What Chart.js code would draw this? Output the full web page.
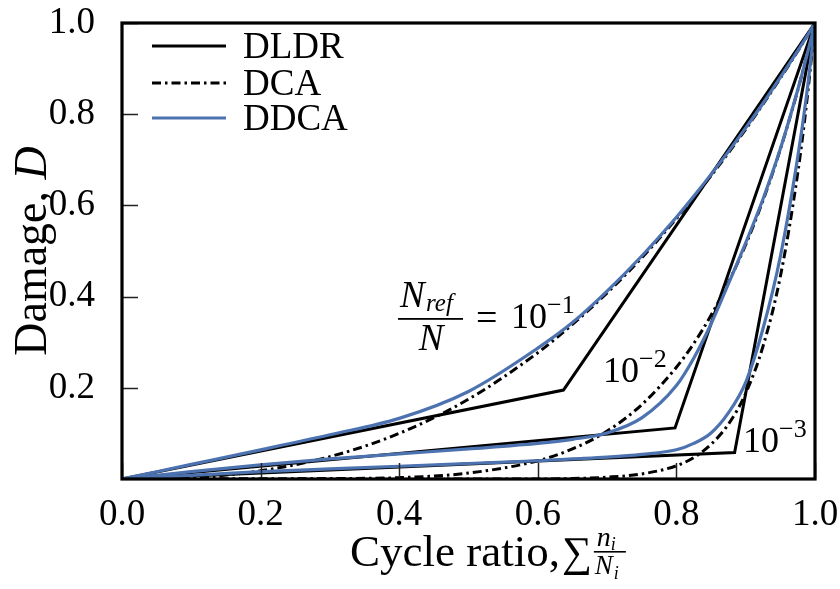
<!DOCTYPE html>
<html>
<head>
<meta charset="utf-8">
<script src="https://cdn.jsdelivr.net/npm/chart.js@4"></script>
<style>
  html, body { margin: 0; padding: 0; background: #fff; }
  #wrap { width: 840px; height: 589px; }
</style>
</head>
<body>
<div id="wrap"><canvas id="chart" width="840" height="589"></canvas></div>
<script>
const SERIF = "'Liberation Serif', 'DejaVu Serif', serif";
const BLUE = "#4C72B0";

// cycle ratio grid used by the curved models
const ratio = [0, 0.1, 0.2, 0.3, 0.4, 0.5, 0.6, 0.65, 0.7, 0.75, 0.8, 0.825, 0.85, 0.875, 0.9, 0.925, 0.95, 0.975, 0.9875, 1];

// DLDR (bilinear), one per N_ref/N
const dldrX1 = [0, 0.637, 1];
const dldrY1 = [0, 0.195, 1];
const dldrX2 = [0, 0.798, 1];
const dldrY2 = [0, 0.112, 1];
const dldrX3 = [0, 0.884, 1];
const dldrY3 = [0, 0.058, 1];

// DCA
const dca1 = [0, 0.003, 0.018, 0.049, 0.100, 0.175, 0.277, 0.339, 0.408, 0.485, 0.571, 0.617, 0.665, 0.715, 0.767, 0.822, 0.879, 0.938, 0.969, 1];
const dca2 = [0, 0, 0, 0.001, 0.003, 0.013, 0.040, 0.066, 0.105, 0.163, 0.245, 0.297, 0.359, 0.431, 0.514, 0.611, 0.723, 0.852, 0.924, 1];
const dca3 = [0, 0, 0, 0, 0, 0, 0, 0.001, 0.004, 0.011, 0.029, 0.047, 0.076, 0.120, 0.188, 0.291, 0.444, 0.670, 0.819, 1];

// DDCA
const ddca1 = [0, 0.032, 0.064, 0.097, 0.133, 0.192, 0.287, 0.343, 0.412, 0.489, 0.574, 0.620, 0.668, 0.718, 0.770, 0.824, 0.881, 0.939, 0.969, 1];
const ddca2 = [0, 0.016, 0.031, 0.044, 0.055, 0.066, 0.078, 0.087, 0.101, 0.134, 0.205, 0.265, 0.340, 0.428, 0.518, 0.614, 0.724, 0.853, 0.924, 1];
const ddca3 = [0, 0.008, 0.016, 0.022, 0.028, 0.034, 0.040, 0.044, 0.048, 0.054, 0.064, 0.078, 0.101, 0.145, 0.212, 0.330, 0.488, 0.705, 0.838, 1];

const xTicks = [0, 0.2, 0.4, 0.6, 0.8, 1.0];
const yTicks = [0.2, 0.4, 0.6, 0.8, 1.0];
const legendNames = ["DLDR", "DCA", "DDCA"];

function pts(xs, ys) {
  return xs.map((x, i) => ({ x, y: ys[i] }));
}

function solid(xs, ys) {
  return { data: pts(xs, ys), borderColor: "#000", borderWidth: 3, tension: 0, pointRadius: 0, order: 3 };
}
function dashdot(ys) {
  return { data: pts(ratio, ys), borderColor: "#000", borderWidth: 3, borderDash: [9, 4, 2.5, 4],
           cubicInterpolationMode: "monotone", pointRadius: 0, order: 2 };
}
function blue(ys) {
  return { data: pts(ratio, ys), borderColor: BLUE, borderWidth: 3.2, cubicInterpolationMode: "monotone",
           pointRadius: 0, order: 1 };
}

const datasets = [
  solid(dldrX1, dldrY1), solid(dldrX2, dldrY2), solid(dldrX3, dldrY3),
  dashdot(dca1), dashdot(dca2), dashdot(dca3),
  blue(ddca1), blue(ddca2), blue(ddca3)
];

function txt(ctx, s, x, y, size, italic, align) {
  ctx.font = (italic ? "italic " : "") + size + "px " + SERIF;
  ctx.textAlign = align || "left";
  ctx.textBaseline = "alphabetic";
  ctx.fillText(s, x, y);
  return ctx.measureText(s).width;
}

function noPad(s) {
  s.paddingTop = 0; s.paddingBottom = 0; s.paddingLeft = 0; s.paddingRight = 0;
}

const decor = {
  id: "decor",
  afterDraw(chart) {
    const { ctx, chartArea: a, scales } = chart;
    ctx.save();
    ctx.fillStyle = "#000";

    // inward ticks
    ctx.strokeStyle = "#222";
    ctx.lineWidth = 1.5;
    ctx.beginPath();
    xTicks.forEach(v => {
      const px = Math.round(scales.x.getPixelForValue(v)) + 0.5;
      ctx.moveTo(px, a.bottom); ctx.lineTo(px, a.bottom - 16);
    });
    yTicks.forEach(v => {
      const py = Math.round(scales.y.getPixelForValue(v)) + 0.5;
      ctx.moveTo(a.left, py); ctx.lineTo(a.left + 16, py);
    });
    ctx.stroke();

    // frame
    ctx.strokeStyle = "#000";
    ctx.lineWidth = 3.2;
    ctx.strokeRect(a.left, a.top, a.right - a.left, a.bottom - a.top);

    // legend
    const rows = [46, 83, 118];
    legendNames.forEach((name, i) => {
      const ds = datasets[i * 3];
      ctx.strokeStyle = ds.borderColor;
      ctx.lineWidth = ds.borderWidth;
      ctx.setLineDash(ds.borderDash || []);
      ctx.beginPath();
      ctx.moveTo(152, rows[i]); ctx.lineTo(226, rows[i]);
      ctx.stroke();
      ctx.setLineDash([]);
      txt(ctx, name, 243, rows[i] + 12, 37, false);
    });

    // y title
    ctx.save();
    ctx.translate(46, (a.top + a.bottom) / 2);
    ctx.rotate(-Math.PI / 2);
    ctx.font = "46px " + SERIF;
    const w1 = ctx.measureText("Damage, ").width;
    ctx.font = "italic 46px " + SERIF;
    const w2 = ctx.measureText("D").width;
    let sx = -(w1 + w2) / 2;
    sx += txt(ctx, "Damage, ", sx, 0, 46, false);
    txt(ctx, "D", sx, 0, 46, true);
    ctx.restore();

    // x title
    let xx = 350;
    xx += txt(ctx, "Cycle ratio,", xx, 566, 45, false);
    xx += txt(ctx, "\u2211", xx + 2, 566, 42, false) + 4;
    txt(ctx, "n", xx + 3, 546, 28, true);
    txt(ctx, "i", xx + 17, 550, 18, true);
    ctx.fillRect(xx, 551, 32, 1.6);
    txt(ctx, "N", xx + 1, 574, 27, true);
    txt(ctx, "i", xx + 20, 579, 18, true);

    // annotations
    txt(ctx, "N", 400, 307, 37, true);
    txt(ctx, "ref", 426, 311, 25, true);
    ctx.fillRect(398, 318, 65, 1.8);
    txt(ctx, "N", 431, 350, 37, true, "center");
    txt(ctx, "=", 476, 330, 38, false);
    txt(ctx, "10", 511, 328, 36, false);
    txt(ctx, "\u22121", 547, 313, 26, false);

    txt(ctx, "10", 603, 382, 36, false);
    txt(ctx, "\u22122", 639, 367, 26, false);

    txt(ctx, "10", 743, 452, 36, false);
    txt(ctx, "\u22123", 779, 437, 26, false);

    ctx.restore();
  }
};

new Chart(document.getElementById("chart"), {
  type: "line",
  data: { datasets },
  options: {
    responsive: false,
    animation: false,
    layout: { padding: { left: 0, top: 23, right: 25, bottom: 0 } },
    plugins: { legend: { display: false }, tooltip: { enabled: false } },
    scales: {
      x: {
        type: "linear", min: 0, max: 1,
        grid: { display: false }, border: { display: false },
        afterBuildTicks: s => { s.ticks = xTicks.map(v => ({ value: v })); },
        afterFit: s => { s.height = 110; noPad(s); },
        ticks: { padding: 6, color: "#000", font: { family: SERIF, size: 37 }, maxRotation: 0,
                 callback: v => Number(v).toFixed(1) }
      },
      y: {
        type: "linear", min: 0, max: 1,
        grid: { display: false }, border: { display: false },
        afterBuildTicks: s => { s.ticks = yTicks.map(v => ({ value: v })); },
        afterFit: s => { s.width = 122; noPad(s); },
        ticks: { padding: 19, color: "#000", font: { family: SERIF, size: 37 },
                 callback: v => Number(v).toFixed(1) }
      }
    }
  },
  plugins: [decor]
});
</script>
</body>
</html>
